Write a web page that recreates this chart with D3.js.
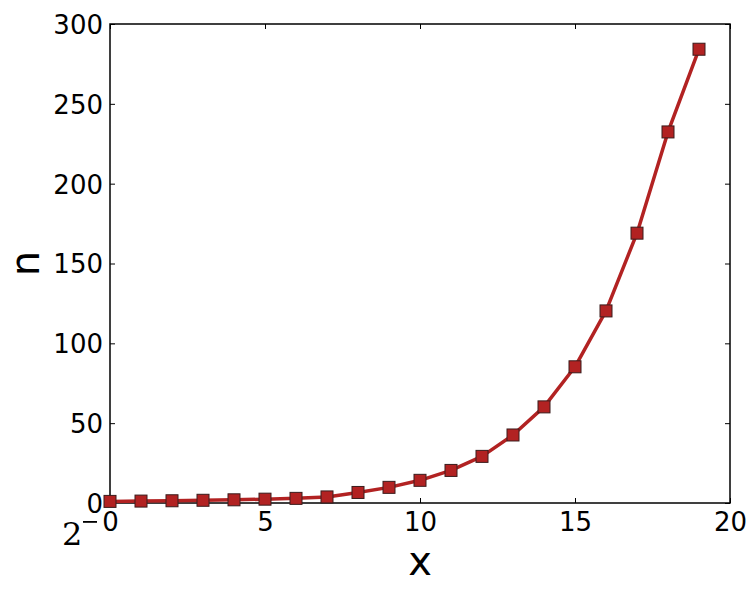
<!DOCTYPE html>
<html>
<head>
<meta charset="utf-8">
<script src="https://cdn.jsdelivr.net/npm/d3@7"></script>
<style>
  html, body { margin: 0; padding: 0; background: #fff; }
  svg { display: block; }
</style>
</head>
<body>
<svg id="chart" width="755" height="594"></svg>
<script>
const xValues = [0, 1, 2, 3, 4, 5, 6, 7, 8, 9, 10, 11, 12, 13, 14, 15, 16, 17, 18, 19];
const nValues = [1, 1.2, 1.4, 1.7, 2.0, 2.4, 2.9, 3.8, 6.6, 9.8, 14.2, 20.4, 29.2, 42.6, 60.2, 85.3, 120.3, 169.0, 232.4, 284.2];
const xTicks = [0, 5, 10, 15, 20];
const yTicks = [0, 50, 100, 150, 200, 250, 300];
const xLabel = "x";
const yLabel = "n";

const svg = d3.select("#chart");
const m = { left: 110, right: 730, top: 24, bottom: 503 };

const x = d3.scaleLinear().domain([0, 20]).range([m.left, m.right]);
const y = d3.scaleLinear().domain([0, 300]).range([m.bottom, m.top]);

const font = "'DejaVu Sans', sans-serif";
const tickLen = 5;

const gB = svg.append("g").attr("transform", `translate(0,${m.bottom})`)
  .call(d3.axisBottom(x).tickValues(xTicks).tickSizeInner(-tickLen).tickSizeOuter(0).tickPadding(10));
const gT = svg.append("g").attr("transform", `translate(0,${m.top})`)
  .call(d3.axisTop(x).tickValues(xTicks).tickSizeInner(-tickLen).tickSizeOuter(0).tickFormat(""));
const gL = svg.append("g").attr("transform", `translate(${m.left},0)`)
  .call(d3.axisLeft(y).tickValues(yTicks).tickSizeInner(-tickLen).tickSizeOuter(0).tickPadding(7));
const gR = svg.append("g").attr("transform", `translate(${m.right},0)`)
  .call(d3.axisRight(y).tickValues(yTicks).tickSizeInner(-tickLen).tickSizeOuter(0).tickFormat(""));

[gB, gT, gL, gR].forEach(g => {
  g.select(".domain").remove();
  g.selectAll(".tick line").attr("stroke", "#000").attr("stroke-width", 1);
  g.selectAll(".tick text").attr("font-family", font).attr("font-size", 26).attr("fill", "#000");
});
gL.selectAll(".tick text").attr("dy", "0.36em");

svg.append("rect")
  .attr("x", m.left).attr("y", m.top)
  .attr("width", m.right - m.left).attr("height", m.bottom - m.top)
  .attr("fill", "none").attr("stroke", "#000").attr("stroke-width", 1.5);

const data = xValues.map((d, i) => ({ x: d, n: nValues[i] }));

svg.append("path")
  .datum(data)
  .attr("fill", "none")
  .attr("stroke", "#b22222")
  .attr("stroke-width", 3.5)
  .attr("stroke-linejoin", "round")
  .attr("d", d3.line().x(d => x(d.x)).y(d => y(d.n)));

const ms = 12;
svg.append("g").selectAll("rect")
  .data(data)
  .join("rect")
  .attr("x", d => x(d.x) - ms / 2)
  .attr("y", d => y(d.n) - ms / 2)
  .attr("width", ms).attr("height", ms)
  .attr("fill", "#b22222")
  .attr("stroke", "#3a1c1c")
  .attr("stroke-width", 1);

svg.append("text")
  .attr("x", (m.left + m.right) / 2).attr("y", 575)
  .attr("text-anchor", "middle")
  .attr("font-family", font).attr("font-size", 40)
  .text(xLabel);

svg.append("text")
  .attr("transform", `translate(39,${(m.top + m.bottom) / 2}) rotate(-90)`)
  .attr("text-anchor", "middle")
  .attr("font-family", font).attr("font-size", 40)
  .text(yLabel);

// Stray offset text "2^−" (serif, math style)
svg.append("text")
  .attr("x", 62).attr("y", 545)
  .attr("font-family", "'DejaVu Serif', serif").attr("font-size", 32)
  .attr("fill", "#000")
  .text("2");
svg.append("rect")
  .attr("x", 83).attr("y", 521)
  .attr("width", 14).attr("height", 1.8)
  .attr("fill", "#000");
</script>
</body>
</html>
